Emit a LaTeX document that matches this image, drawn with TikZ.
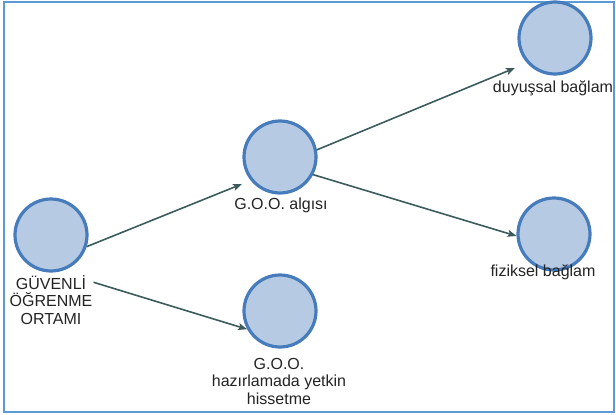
\documentclass[tikz,border=0pt]{standalone}
\usepackage{fontspec}
\setmainfont{Liberation Sans}
\usetikzlibrary{arrows.meta}
\definecolor{framec}{RGB}{91,155,213}
\definecolor{circfill}{RGB}{182,202,228}
\definecolor{circline}{RGB}{70,124,187}
\definecolor{arrowc}{RGB}{60,92,92}
\definecolor{textc}{RGB}{35,35,35}
\tikzset{
  bubble/.style={circle, draw=circline, fill=circfill, line width=3.2pt, minimum size=72pt, inner sep=0pt},
  lbl/.style={text=textc, align=center, inner sep=1pt, font=\fontsize{16}{17.5}\selectfont},
  conn/.style={draw=arrowc, line width=1.6pt, -{Stealth[length=9pt,width=7pt,inset=2pt]}}
}
\begin{document}
\begin{tikzpicture}[x=1pt,y=-1pt]
\useasboundingbox (0,0) rectangle (616,415);
\draw[framec, line width=2.5pt] (4,2) rectangle (614,412);

\node[bubble] (n1) at (51,235) {};
\node[bubble] (n2) at (280,157) {};
\node[bubble] (n3) at (280,311) {};
\node[bubble] (n4) at (555,38) {};
\node[bubble] (n5) at (554,234) {};

\node[lbl] (l1) at (51,300) {GÜVENLİ\\ÖĞRENME\\ORTAMI};
\node[lbl] (l2) at (281,205) {G.O.O. algısı};
\node[lbl] (l3) at (279,381) {G.O.O.\\hazırlamada yetkin\\hissetme};
\node[lbl] (l4) at (553,88) {duyuşsal bağlam};
\node[lbl] (l5) at (543,272) {fiziksel bağlam};

\coordinate (e1) at (242,184);
\coordinate (e3) at (515,68);

\draw[conn] (n1.-18) -- (e1);
\draw[conn] ([yshift=-8pt]l1.north east) -- (n3.209);
\draw[conn] (n2.11) -- (e3);
\draw[conn] (n2.-28) -- (n5.183);
\end{tikzpicture}
\end{document}
